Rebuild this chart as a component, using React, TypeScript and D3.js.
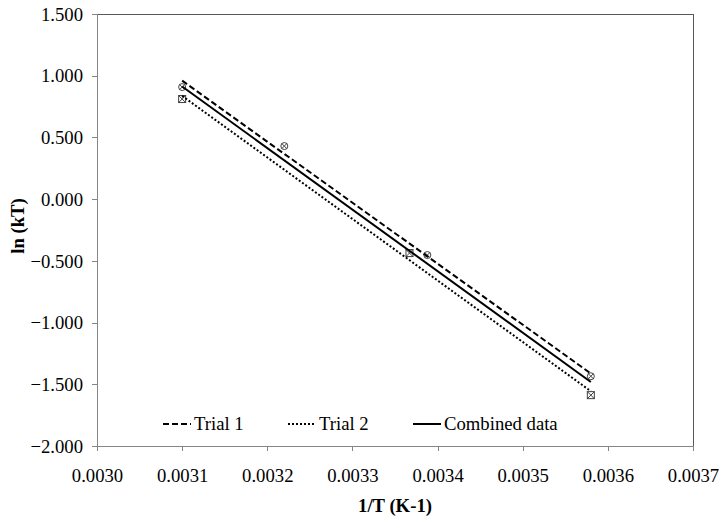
import React, { useRef, useEffect } from 'react';
import * as d3 from 'd3';

// 1/T values and ln(kT)
const trial1_x = [0.0031, 0.00322, 0.003388, 0.00358];
const trial1_y = [0.908, 0.43, -0.453, -1.435];
const trial2_x = [0.0031, 0.003367, 0.00358];
const trial2_y = [0.811, -0.437, -1.588];

const xTicks = [0.003, 0.0031, 0.0032, 0.0033, 0.0034, 0.0035, 0.0036, 0.0037];
const yTicks = [-2, -1.5, -1, -0.5, 0, 0.5, 1, 1.5];

const legendNames = ['Trial 1', 'Trial 2', 'Combined data'];

// least squares trendline, like excel's linear trendline
function fit(xs: number[], ys: number[]) {
    const mx = d3.mean(xs) as number, my = d3.mean(ys) as number;
    let sxy = 0, sxx = 0;
    xs.forEach((x, i) => { sxy += (x - mx) * (ys[i] - my); sxx += (x - mx) * (x - mx); });
    const slope = sxy / sxx;
    const lo = d3.min(xs) as number, hi = d3.max(xs) as number;
    return [[lo, my + slope * (lo - mx)], [hi, my + slope * (hi - mx)]];
}

export default function App() {
    const chartRef = useRef(null);
    const width = 723, height = 521;

    useEffect(() => {
        const margin = { top: 14, right: 30, bottom: 75, left: 97 };
        const font = 'Liberation Serif, Times New Roman, Tinos, DejaVu Serif, serif';
        const fs = '18.7px';
        const axisColor = '#868686';

        const svg = d3.select(chartRef.current);
        svg.selectAll('*').remove();

        const xScale = d3.scaleLinear()
            .domain([0.003, 0.0037])
            .range([margin.left, width - margin.right]);
        const yScale = d3.scaleLinear()
            .domain([-2, 1.5])
            .range([height - margin.bottom, margin.top]);

        // plot frame
        svg.append('rect')
            .attr('x', margin.left).attr('y', margin.top)
            .attr('width', xScale(0.0037) - margin.left)
            .attr('height', yScale(-2) - margin.top)
            .attr('fill', 'none').attr('stroke', '#595959').attr('stroke-width', 1)
            .attr('shape-rendering', 'crispEdges');

        const xAxis = svg.append('g')
            .attr('transform', `translate(0,${yScale(-2)})`)
            .call(d3.axisBottom(xScale).tickValues(xTicks).tickSize(5).tickFormat(d3.format('.4f')));
        const yAxis = svg.append('g')
            .attr('transform', `translate(${margin.left},0)`)
            .call(d3.axisLeft(yScale).tickValues(yTicks).tickSize(5).tickFormat(d3.format('.3f')));

        [xAxis, yAxis].forEach(g => {
            g.attr('font-family', font).attr('font-size', fs);
            g.selectAll('path,line').attr('stroke', axisColor).attr('shape-rendering', 'crispEdges');
            g.selectAll('text').attr('fill', '#000');
        });
        xAxis.selectAll('text').attr('y', 36).attr('dy', 0);
        yAxis.selectAll('text').attr('x', -14).attr('dy', '0.33em');

        // trial 1 markers: circle with cross
        const m1 = svg.append('g');
        trial1_x.forEach((x, i) => {
            const cx = xScale(x), cy = yScale(trial1_y[i]);
            m1.append('circle').attr('cx', cx).attr('cy', cy).attr('r', 3.5)
                .attr('fill', '#fff').attr('stroke', '#404040').attr('stroke-width', 1);
            m1.append('path')
                .attr('d', `M${cx - 2.5},${cy - 2.5}L${cx + 2.5},${cy + 2.5}M${cx + 2.5},${cy - 2.5}L${cx - 2.5},${cy + 2.5}`)
                .attr('stroke', '#404040').attr('stroke-width', 1);
        });

        // trial 2 markers: square with cross
        const m2 = svg.append('g');
        trial2_x.forEach((x, i) => {
            const cx = xScale(x), cy = yScale(trial2_y[i]);
            m2.append('rect').attr('x', cx - 3.5).attr('y', cy - 3.5).attr('width', 7).attr('height', 7)
                .attr('fill', '#fff').attr('stroke', '#404040').attr('stroke-width', 1);
            m2.append('path')
                .attr('d', `M${cx - 3.5},${cy - 3.5}L${cx + 3.5},${cy + 3.5}M${cx + 3.5},${cy - 3.5}L${cx - 3.5},${cy + 3.5}`)
                .attr('stroke', '#404040').attr('stroke-width', 1);
        });

        // trendlines sit on top of the markers
        const line = d3.line<number[]>().x(d => xScale(d[0])).y(d => yScale(d[1]));

        const allX = trial1_x.concat(trial2_x);
        const allY = trial1_y.concat(trial2_y);

        const trends = [
            { pts: fit(trial1_x, trial1_y), dash: '6,3' },
            { pts: fit(trial2_x, trial2_y), dash: '2,2' },
            { pts: fit(allX, allY), dash: null },
        ];
        trends.forEach(t => {
            svg.append('path')
                .attr('d', line(t.pts as any))
                .attr('fill', 'none').attr('stroke', '#000').attr('stroke-width', 2)
                .attr('stroke-dasharray', t.dash);
        });

        // legend
        const legendX = [163, 288, 413];
        const legendDash = ['6,3', '2,2', null];
        const ly = 424;
        legendNames.forEach((name, i) => {
            svg.append('line')
                .attr('x1', legendX[i]).attr('x2', legendX[i] + 28)
                .attr('y1', ly).attr('y2', ly)
                .attr('stroke', '#000').attr('stroke-width', 2)
                .attr('stroke-dasharray', legendDash[i]);
            svg.append('text')
                .attr('x', legendX[i] + 31).attr('y', ly + 6)
                .attr('font-family', font).attr('font-size', fs)
                .text(name);
        });

        svg.append('text')
            .attr('transform', `translate(${(margin.left + width - margin.right) / 2},${height - 9})`)
            .style('text-anchor', 'middle')
            .attr('font-family', font).attr('font-size', fs).attr('font-weight', 'bold')
            .text('1/T (K-1)');

        svg.append('text')
            .attr('transform', `translate(${24},${226}), rotate(-90)`)
            .style('text-anchor', 'middle')
            .attr('font-family', font).attr('font-size', fs).attr('font-weight', 'bold')
            .text('ln (kT)');
    }, []);

    return (
        <div style={{ position: 'absolute', left: 0, top: 0 }}>
            <svg width={width} height={height} ref={chartRef} style={{ display: 'block', background: '#fff' }} />
        </div>
    );
}
